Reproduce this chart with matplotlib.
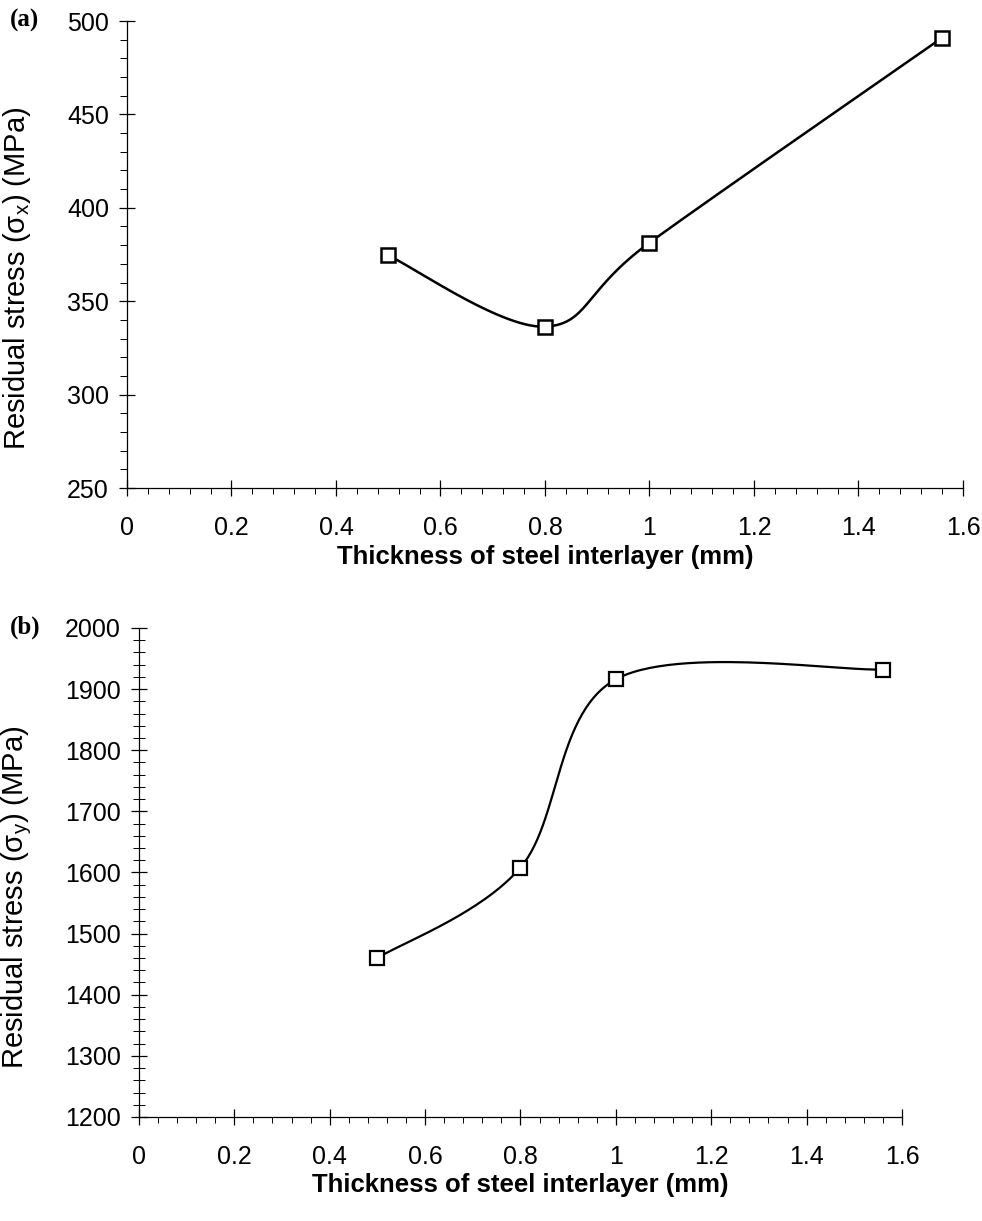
import matplotlib as mpl
import matplotlib.pyplot as plt
import numpy as np
from matplotlib.ticker import MultipleLocator, FuncFormatter

mpl.rcParams["font.family"] = ["Liberation Sans", "DejaVu Sans"]
mpl.rcParams["mathtext.fontset"] = "custom"
mpl.rcParams["mathtext.rm"] = "Liberation Sans"
mpl.rcParams["mathtext.it"] = "Liberation Sans"

# data
thickness = [0.5, 0.8, 1.0, 1.56]
stress_x = [374.5, 336.4, 381.3, 491.0]
stress_y = [1460, 1608, 1916, 1932]

XLABEL = "Thickness of steel interlayer (mm)"
YLABEL_A = "Residual stress (σ$_{\\rm x}$) (MPa)"
YLABEL_B = "Residual stress (σ$_{\\rm y}$) (MPa)"

NUM_FORMATTER = FuncFormatter(lambda v, _: "{:g}".format(round(v, 3)))


def excel_smooth(x, y, n=60):
    # bezier smoothing like the spreadsheet "smoothed line" option
    p = np.column_stack([x, y]).astype(float)
    ext = np.vstack([p[0], p, p[-1]])
    t = np.linspace(0, 1, n)[:, None]
    out = []
    for i in range(len(p) - 1):
        p0, p3 = p[i], p[i + 1]
        c1 = p0 + (ext[i + 2] - ext[i]) / 6
        c2 = p3 - (ext[i + 3] - ext[i + 1]) / 6
        seg = ((1 - t) ** 3) * p0 + 3 * ((1 - t) ** 2) * t * c1 \
            + 3 * (1 - t) * t ** 2 * c2 + t ** 3 * p3
        out.append(seg)
    out = np.vstack(out)
    return out[:, 0], out[:, 1]


def style_axes(ax, ymajor, yminor, ylim, yminor_dir, xpad, ypad):
    ax.set_xlim(0, 1.6)
    ax.set_ylim(*ylim)
    for side in ("top", "right"):
        ax.spines[side].set_visible(False)
    for side in ("left", "bottom"):
        ax.spines[side].set_linewidth(0.9)
    ax.xaxis.set_major_locator(MultipleLocator(0.2))
    ax.xaxis.set_minor_locator(MultipleLocator(0.04))
    ax.yaxis.set_major_locator(MultipleLocator(ymajor))
    ax.yaxis.set_minor_locator(MultipleLocator(yminor))
    ax.xaxis.set_major_formatter(NUM_FORMATTER)
    ax.tick_params(which="major", direction="inout", length=12, width=0.9,
                   labelsize=18)
    ax.tick_params(axis="x", which="major", pad=xpad)
    ax.tick_params(axis="y", which="major", pad=ypad)
    ax.tick_params(axis="x", which="minor", direction="out", length=4,
                   width=0.7)
    ax.tick_params(axis="y", which="minor", direction=yminor_dir,
                   length=5 if yminor_dir == "out" else 8, width=0.7)


fig = plt.figure(figsize=(9.82, 12.21), dpi=100)

# (a)
ax1 = fig.add_axes([0.1293, 0.6003, 0.8513, 0.3825])
sx, sy = excel_smooth(thickness, stress_x)
ax1.plot(sx, sy, "-", color="black", lw=1.8)
ax1.plot(thickness, stress_x, "s", ms=10, mfc="white", mec="black", mew=1.8)
style_axes(ax1, 50, 10, (250, 500), "out", 14, 7)
ax1.set_xlabel(XLABEL, fontsize=18.5, fontweight="bold", labelpad=4)
ax1.set_ylabel(YLABEL_A, fontsize=21)
ax1.yaxis.set_label_coords(-0.113, 0.45)

# (b)
ax2 = fig.add_axes([0.1415, 0.0852, 0.777, 0.4005])
sx, sy = excel_smooth(thickness, stress_y)
ax2.plot(sx, sy, "-", color="black", lw=1.6)
ax2.plot(thickness, stress_y, "s", ms=10, mfc="white", mec="black", mew=1.6)
style_axes(ax2, 100, 20, (1200, 2000), "inout", 14, 7)
ax2.set_xlabel(XLABEL, fontsize=18.5, fontweight="bold", labelpad=3)
ax2.set_ylabel(YLABEL_B, fontsize=21)
ax2.yaxis.set_label_coords(-0.138, 0.45)

fig.text(0.010, 0.983, "(a)", family="Liberation Serif", fontweight="bold",
         fontsize=18, va="center")
fig.text(0.010, 0.486, "(b)", family="Liberation Serif", fontweight="bold",
         fontsize=18, va="center")

plt.savefig("out.png", dpi=100)
